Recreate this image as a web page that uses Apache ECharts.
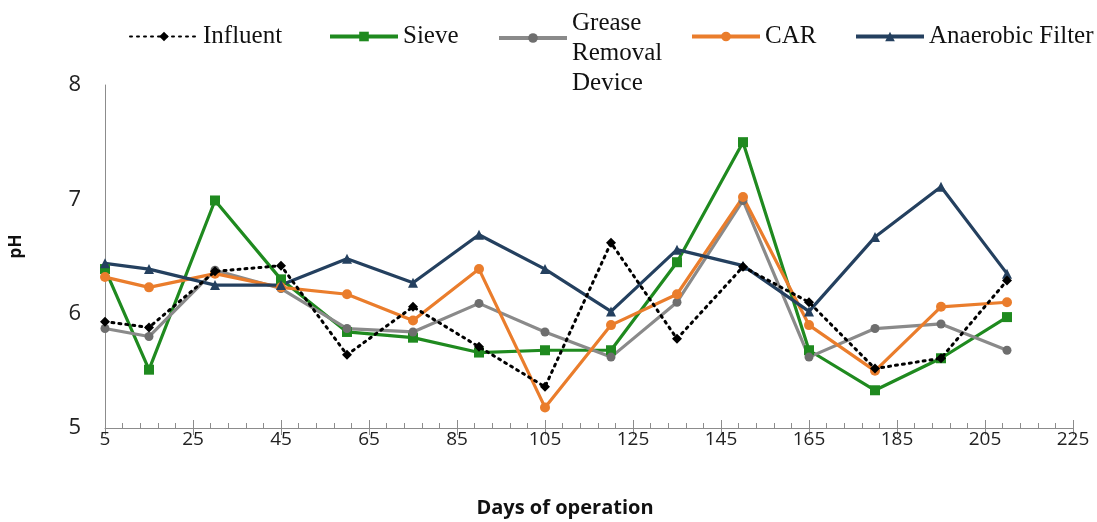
<!DOCTYPE html>
<html>
<head>
<meta charset="utf-8">
<script src="https://cdn.jsdelivr.net/npm/echarts@6/dist/echarts.min.js"></script>
<style>html,body{margin:0;padding:0;background:#fff}#c{width:1097px;height:522px}</style>
</head>
<body>
<div id="c"></div>
<script>
const days = [5, 15, 30, 45, 60, 75, 90, 105, 120, 135, 150, 165, 180, 195, 210];
const influent = [5.93, 5.88, 6.37, 6.42, 5.64, 6.06, 5.71, 5.36, 6.62, 5.78, 6.41, 6.10, 5.52, 5.61, 6.29];
const sieve = [6.39, 5.51, 6.99, 6.30, 5.84, 5.79, 5.66, 5.68, 5.68, 6.45, 7.50, 5.68, 5.33, 5.61, 5.97];
const grease = [5.87, 5.80, 6.38, 6.22, 5.87, 5.84, 6.09, 5.84, 5.62, 6.10, 6.99, 5.62, 5.87, 5.91, 5.68];
const car = [6.32, 6.23, 6.35, 6.23, 6.17, 5.94, 6.39, 5.18, 5.90, 6.17, 7.02, 5.90, 5.50, 6.06, 6.10];
const anaerobic = [6.44, 6.39, 6.25, 6.25, 6.48, 6.27, 6.69, 6.39, 6.02, 6.56, 6.42, 6.02, 6.67, 7.11, 6.35];
const xTicks = {min: 5, max: 225, interval: 20};
const yTicks = {min: 5, max: 8, interval: 1};
const names = ['Influent', 'Sieve', 'Grease Removal Device', 'CAR', 'Anaerobic Filter'];

const pairs = arr => days.map((d, i) => [d, arr[i]]);
const serif = '"Liberation Serif", "Times New Roman", serif';
const sans = '"Open Sans", "Noto Sans", sans-serif';

function mkSeries(name, arr, color, symbol, opts) {
  return Object.assign({
    name: name, type: 'line', data: pairs(arr), xAxisIndex: 0, yAxisIndex: 0,
    symbol: symbol, symbolSize: 9, showSymbol: true,
    lineStyle: {color: color, width: 3.2},
    itemStyle: {color: color},
    animation: false, z: 2
  }, opts || {});
}

const legendBase = {
  itemWidth: 68, itemHeight: 12, padding: 0, itemGap: 0,
  textStyle: {fontFamily: serif, fontSize: 25, color: '#111'},
  selectedMode: false
};
function mkLegend(name, left, top, extra) {
  return Object.assign({}, legendBase, {data: [name], left: left, top: top}, extra || {});
}

const chart = echarts.init(document.getElementById('c'), null, {renderer: 'canvas'});
chart.setOption({
  backgroundColor: '#fff',
  animation: false,
  grid: {left: 105, right: 24, top: 85, bottom: 94, containLabel: false, outerBoundsMode: 'none'},
  legend: [
    mkLegend('Influent', 129, 24),
    mkLegend('Sieve', 328, 24, {lineStyle: {width: 4}}),
    mkLegend('Grease Removal Device', 497, -22, {
      formatter: () => '\nGrease\nRemoval\nDevice',
      lineStyle: {width: 4},
      textStyle: {fontFamily: serif, fontSize: 25, color: '#111', lineHeight: 30}
    }),
    mkLegend('CAR', 690, 24, {lineStyle: {width: 4}}),
    mkLegend('Anaerobic Filter', 854, 24, {lineStyle: {width: 4}})
  ],
  xAxis: [{
    type: 'value', min: xTicks.min, max: xTicks.max, interval: xTicks.interval,
    position: 'bottom',
    axisLine: {show: true, lineStyle: {color: '#8c8c8c', width: 1}},
    axisTick: {show: true, inside: false, length: 7, lineStyle: {color: '#8c8c8c'}},
    splitLine: {show: false},
    axisLabel: {fontFamily: sans, fontSize: 19, color: '#222', margin: 2},
    name: 'Days of operation', nameLocation: 'middle', nameGap: 70,
    nameTextStyle: {fontFamily: sans, fontSize: 20, fontWeight: 'bold', color: '#111', padding: [0, 48, 0, 0]}
  }, {
    type: 'value', min: xTicks.min, max: xTicks.max, interval: xTicks.interval,
    position: 'bottom', offset: 0,
    axisLine: {show: false},
    axisTick: {show: true, inside: true, length: 8, lineStyle: {color: '#8c8c8c'}},
    minorTick: {show: true, splitNumber: 5, length: 5, lineStyle: {color: '#8c8c8c'}},
    axisLabel: {show: false},
    splitLine: {show: false}
  }],
  yAxis: {
    type: 'value', min: yTicks.min, max: yTicks.max, interval: yTicks.interval,
    axisLine: {show: true, lineStyle: {color: '#8c8c8c', width: 1}},
    axisTick: {show: false},
    splitLine: {show: false},
    axisLabel: {fontFamily: sans, fontSize: 22, color: '#222', margin: 24},
    name: 'pH', nameLocation: 'middle', nameGap: 80, nameRotate: 90,
    nameTextStyle: {fontFamily: sans, fontSize: 17, fontWeight: 'bold', color: '#111', padding: [0, 0, 0, 20]}
  },
  series: [
    mkSeries('Influent', influent, '#000000', 'diamond', {
      lineStyle: {color: '#000', width: 3, type: [2, 5], cap: 'round'}, symbolSize: 10, z: 5
    }),
    mkSeries('Sieve', sieve, '#1f8a1f', 'rect', {symbolSize: 10}),
    mkSeries('Grease Removal Device', grease, '#8a8a8a', 'circle', {
      itemStyle: {color: '#6e6e6e'}
    }),
    mkSeries('CAR', car, '#ea7d2c', 'circle', {symbolSize: 10}),
    mkSeries('Anaerobic Filter', anaerobic, '#24405f', 'triangle', {symbolSize: 10})
  ]
});
</script>
</body>
</html>
